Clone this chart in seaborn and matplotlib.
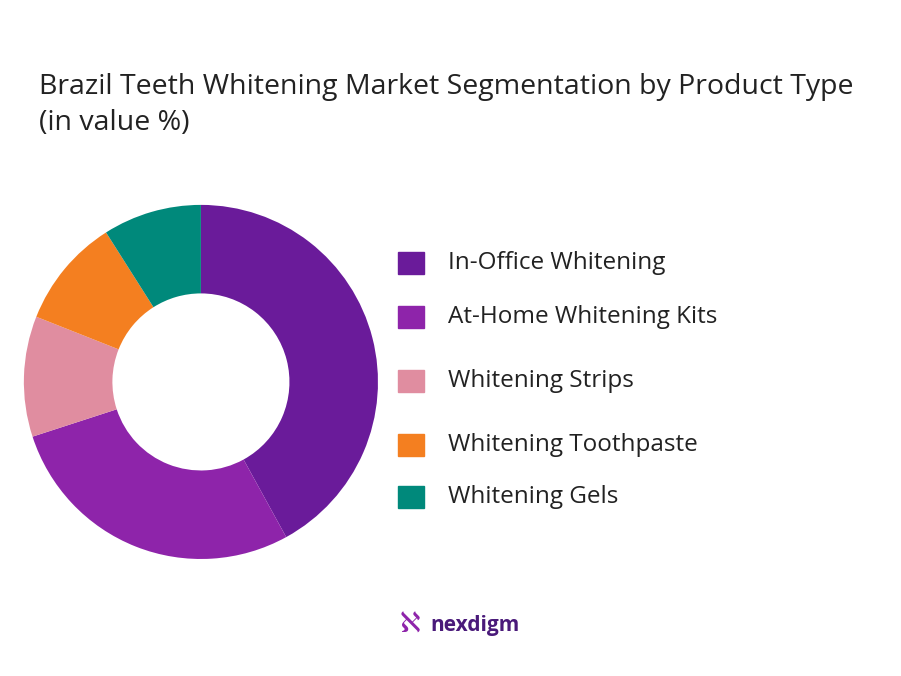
import matplotlib
matplotlib.use("Agg")
import matplotlib.pyplot as plt
import seaborn as sns
from matplotlib.patches import Rectangle

sns.set_theme(style="white")
plt.rcParams['font.family'] = ['Open Sans', 'DejaVu Sans']

# data
segments = ["In-Office Whitening", "At-Home Whitening Kits", "Whitening Strips",
            "Whitening Toothpaste", "Whitening Gels"]
shares = [42, 28, 11, 10, 9]
colors = ["#6A1B9A", "#8E24AA", "#E08DA0", "#F47F20", "#00897B"]

fig = plt.figure(figsize=(9.01, 6.76), dpi=100)
fig.patch.set_facecolor("white")

fig.text(0.043, 1 - 87 / 676, "Brazil Teeth Whitening Market Segmentation by Product Type",
         fontsize=20.5, color="#222222", va="center")
fig.text(0.043, 1 - 123 / 676, "(in value %)", fontsize=20.5, color="#222222", va="center")

ax = fig.add_axes([0.0265, 0.173, 0.393, 0.524])
ax.pie(shares, colors=colors, startangle=90, counterclock=False,
       wedgeprops=dict(width=0.5, edgecolor="none"))
ax.set_xlim(-1, 1)
ax.set_ylim(-1, 1)
ax.set_aspect("equal")

# legend
leg_y = [263, 317, 381, 445, 497]
for name, c, y in zip(segments, colors, leg_y):
    fy = 1 - y / 676
    fig.patches.append(Rectangle((398 / 901, fy - 11 / 676), 26 / 901, 22 / 676,
                                 transform=fig.transFigure, color=c))
    fig.text(448 / 901, fy, name, fontsize=17.5, va="center", color="#222222")

fig.text(0.455, 0.075, "\u2135", fontsize=20, color="#8E24AA", ha="center", va="center")
fig.text(0.478, 0.075, "nexdigm", fontsize=15, fontweight="bold", color="#4A1A7A", va="center")

fig.savefig("out.png", dpi=100)
